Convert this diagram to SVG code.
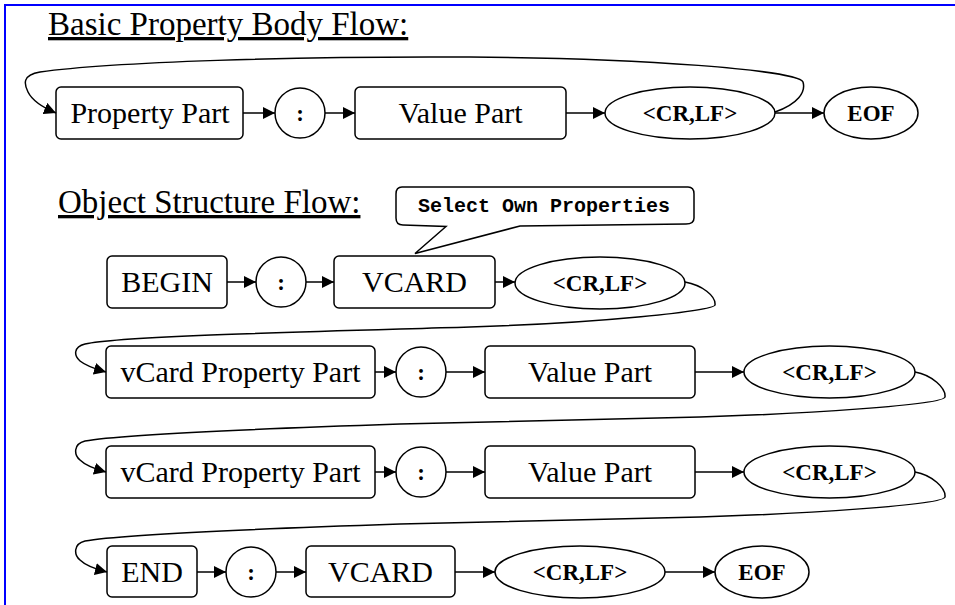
<svg xmlns="http://www.w3.org/2000/svg" width="955" height="605" viewBox="0 0 955 605">
<defs>
<marker id="arr" markerUnits="userSpaceOnUse" markerWidth="13" markerHeight="12" refX="12" refY="6" orient="auto">
<path d="M0,0 L12,6 L0,12 Z" fill="#000"/>
</marker>
<style>
.box{fill:#fff;stroke:#000;stroke-width:1.5}
.lbl{font-family:"Liberation Serif","Times New Roman",serif;font-size:30px;text-anchor:middle;fill:#000}
.bl{font-family:"Liberation Serif","Times New Roman",serif;font-size:23px;font-weight:bold;text-anchor:middle;fill:#000}
.title{font-family:"Liberation Serif","Times New Roman",serif;font-size:33px;text-decoration:underline;fill:#000}
.edge{fill:none;stroke:#000;stroke-width:1.5;marker-end:url(#arr)}
.frame{stroke:#0000ff;stroke-width:2;fill:none}
</style>
</defs>
<rect width="955" height="605" fill="#fff"/>
<path class="frame" d="M5,605 L5,5 L955,5"/>

<text class="title" x="48" y="35">Basic Property Body Flow:</text>
<text class="title" x="58" y="213">Object Structure Flow:</text>

<!-- Row 1 -->
<g id="n_prop1"><rect class="box" x="56" y="87" width="187" height="52" rx="5"/><text class="lbl" x="150" y="123">Property Part</text></g>
<g id="n_colon1"><circle class="box" cx="300" cy="113" r="25"/><text class="bl" x="300" y="121">:</text></g>
<g id="n_val1"><rect class="box" x="355" y="87" width="211" height="52" rx="5"/><text class="lbl" x="460.5" y="123">Value Part</text></g>
<g id="n_crlf1"><ellipse class="box" cx="690" cy="113" rx="85" ry="26"/><text class="bl" x="690" y="121">&lt;CR,LF&gt;</text></g>
<g id="n_eof1"><ellipse class="box" cx="871" cy="113" rx="47" ry="26"/><text class="bl" x="871" y="121">EOF</text></g>

<!-- Callout -->
<g id="n_callout">
<path class="box" d="M402,187 L688,187 Q694,187 694,194 L694,218 Q694,224 686,224 L520,226 L415,253.5 L446,226.5 L403,225 Q396,225 396,218 L396,194 Q396,187 402,187 Z"/>
<text x="544" y="212" font-family="'Liberation Mono','Courier New',monospace" font-size="20" font-weight="bold" text-anchor="middle" fill="#000">Select Own Properties</text>
</g>

<!-- Row 2 -->
<g id="n_begin"><rect class="box" x="107" y="256" width="120" height="52" rx="5"/><text class="lbl" x="167" y="292">BEGIN</text></g>
<g id="n_colon2"><circle class="box" cx="281" cy="282" r="25"/><text class="bl" x="281" y="290">:</text></g>
<g id="n_vcard1"><rect class="box" x="334" y="256" width="161" height="52" rx="5"/><text class="lbl" x="414.5" y="292">VCARD</text></g>
<g id="n_crlf2"><ellipse class="box" cx="600" cy="283" rx="85" ry="26"/><text class="bl" x="600" y="291">&lt;CR,LF&gt;</text></g>

<!-- Row 3 -->
<g id="n_vprop1"><rect class="box" x="106" y="346" width="269" height="52" rx="5"/><text class="lbl" x="240.5" y="382">vCard Property Part</text></g>
<g id="n_colon3"><circle class="box" cx="421" cy="372" r="25"/><text class="bl" x="421" y="380">:</text></g>
<g id="n_val2"><rect class="box" x="485" y="346" width="210" height="52" rx="5"/><text class="lbl" x="590" y="382">Value Part</text></g>
<g id="n_crlf3"><ellipse class="box" cx="829.5" cy="372" rx="85.5" ry="26"/><text class="bl" x="829.5" y="380">&lt;CR,LF&gt;</text></g>

<!-- Row 4 -->
<g id="n_vprop2"><rect class="box" x="106" y="446" width="269" height="52" rx="5"/><text class="lbl" x="240.5" y="482">vCard Property Part</text></g>
<g id="n_colon4"><circle class="box" cx="421" cy="472" r="25"/><text class="bl" x="421" y="480">:</text></g>
<g id="n_val3"><rect class="box" x="485" y="446" width="210" height="52" rx="5"/><text class="lbl" x="590" y="482">Value Part</text></g>
<g id="n_crlf4"><ellipse class="box" cx="829.5" cy="472" rx="85.5" ry="26"/><text class="bl" x="829.5" y="480">&lt;CR,LF&gt;</text></g>

<!-- Row 5 -->
<g id="n_end"><rect class="box" x="107" y="546" width="90" height="51" rx="5"/><text class="lbl" x="152" y="582">END</text></g>
<g id="n_colon5"><circle class="box" cx="251" cy="572" r="25"/><text class="bl" x="251" y="580">:</text></g>
<g id="n_vcard2"><rect class="box" x="306" y="546" width="149" height="51" rx="5"/><text class="lbl" x="380.5" y="582">VCARD</text></g>
<g id="n_crlf5"><ellipse class="box" cx="580" cy="572" rx="85" ry="26"/><text class="bl" x="580" y="580">&lt;CR,LF&gt;</text></g>
<g id="n_eof2"><ellipse class="box" cx="762" cy="572" rx="47" ry="26"/><text class="bl" x="762" y="580">EOF</text></g>

<!-- Connectors -->
<g id="connectors">
<line class="edge" x1="243" y1="113" x2="275" y2="113"/>
<line class="edge" x1="325" y1="113" x2="355" y2="113"/>
<line class="edge" x1="566" y1="113" x2="605" y2="113"/>
<line class="edge" x1="775" y1="113" x2="824" y2="113"/>
<path class="edge" d="M775,112 C798,104 806,92 803,82 C798,70 640,58 470,57 C300,56 110,62 40,72 C22,75 24,84 28,92 C33,102 44,108 56,113"/>

<line class="edge" x1="227" y1="282" x2="256" y2="282"/>
<line class="edge" x1="306" y1="282" x2="334" y2="282"/>
<line class="edge" x1="495" y1="282" x2="515" y2="282"/>
<path class="edge" d="M685,282 C702,285 716,296 715,305 C714,311 600,323 470,327 C300,332 120,336 85,344 C73,347 74,356 80,361 C85,365 95,369 106,372"/>

<line class="edge" x1="375" y1="372" x2="396" y2="372"/>
<line class="edge" x1="446" y1="372" x2="485" y2="372"/>
<line class="edge" x1="695" y1="372" x2="744" y2="372"/>
<path class="edge" d="M915,372 C932,375 946,388 945,397 C944,405 800,414 700,417 C560,421 470,422 400,424 C280,428 120,434 85,441 C73,444 74,455 80,460 C85,465 95,469 106,472"/>

<line class="edge" x1="375" y1="472" x2="396" y2="472"/>
<line class="edge" x1="446" y1="472" x2="485" y2="472"/>
<line class="edge" x1="695" y1="472" x2="744" y2="472"/>
<path class="edge" d="M915,472 C932,475 946,488 945,497 C944,505 800,514 700,517 C560,521 470,522 400,524 C280,528 120,534 85,541 C73,544 74,555 80,560 C85,565 95,569 107,572"/>

<line class="edge" x1="197" y1="572" x2="226" y2="572"/>
<line class="edge" x1="276" y1="572" x2="306" y2="572"/>
<line class="edge" x1="455" y1="572" x2="495" y2="572"/>
<line class="edge" x1="665" y1="572" x2="715" y2="572"/>
</g>
</svg>
